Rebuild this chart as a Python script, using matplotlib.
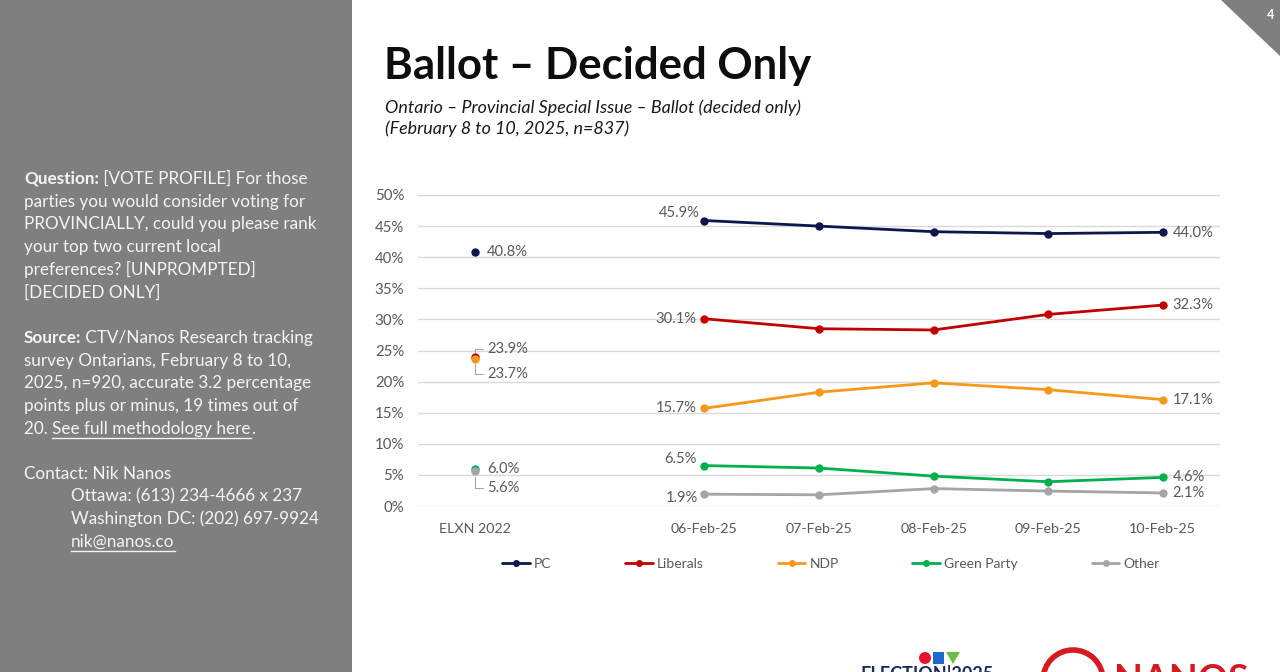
import matplotlib
matplotlib.use("Agg")
import matplotlib.pyplot as plt
from matplotlib.patches import Rectangle, Polygon, Ellipse
from matplotlib.ticker import PercentFormatter

plt.rcParams['font.family'] = ['Lato', 'DejaVu Sans']

# данные опроса
categories = ['ELXN 2022', '06-Feb-25', '07-Feb-25', '08-Feb-25', '09-Feb-25', '10-Feb-25']
positions = [0, 2, 3, 4, 5, 6]
parties = ['PC', 'Liberals', 'NDP', 'Green Party', 'Other']
colors = ['#0e1650', '#c00000', '#f7981d', '#00b04f', '#a5a5a5']
elxn_2022 = [40.8, 23.9, 23.7, 6.0, 5.6]
pc = [45.9, 45.0, 44.1, 43.8, 44.0]
liberals = [30.1, 28.5, 28.3, 30.8, 32.3]
ndp = [15.7, 18.3, 19.8, 18.7, 17.1]
green = [6.5, 6.1, 4.8, 3.9, 4.6]
other = [1.9, 1.8, 2.8, 2.4, 2.1]
series = [pc, liberals, ndp, green, other]

W, H = 1280, 672
fig = plt.figure(figsize=(12.8, 6.72), dpi=100)
fig.patch.set_facecolor('white')

def fx(px):
    return px / W

def fy(py):
    return 1 - py / H

# серая панель слева
fig.patches.append(Rectangle((0, 0), fx(352), 1, transform=fig.transFigure,
                             facecolor='#7f7f7f', edgecolor='none', zorder=0))
# уголок с номером слайда
fig.patches.append(Polygon([(fx(1221), 1), (1, 1), (1, fy(56))], closed=True,
                           transform=fig.transFigure, facecolor='#7f7f7f',
                           edgecolor='none'))
fig.text(fx(1271), fy(15), '4', color='white', fontsize=9, fontweight='bold',
         ha='center', va='center')

# заголовки
fig.text(fx(384), fy(79), 'Ballot \u2013 Decided Only', fontsize=31.5,
         fontweight='bold', color='#0d0d0d', va='baseline')
fig.text(fx(385), fy(113), 'Ontario \u2013 Provincial Special Issue \u2013 Ballot (decided only)',
         fontsize=12.9, style='italic', color='#1a1a1a', va='baseline')
fig.text(fx(385), fy(134), '(February 8 to 10, 2025, n=837)',
         fontsize=12.9, style='italic', color='#1a1a1a', va='baseline')

# текст в левой панели
txt_col = '#f4f4f4'
fs_side = 12.3
lines = [
    ('Question:', ' [VOTE PROFILE] For those', 0),
    (None, 'parties you would consider voting for', 0),
    (None, 'PROVINCIALLY, could you please rank', 0),
    (None, 'your top two current local', 0),
    (None, 'preferences? [UNPROMPTED]', 0),
    (None, '[DECIDED ONLY]', 0),
    (None, '', 0),
    ('Source:', ' CTV/Nanos Research tracking', 0),
    (None, 'survey Ontarians, February 8 to 10,', 0),
    (None, '2025, n=920, accurate 3.2 percentage', 0),
    (None, 'points plus or minus, 19 times out of', 0),
    (None, '20. ', 0),
    (None, '', 0),
    (None, 'Contact: Nik Nanos', 0),
    (None, 'Ottawa: (613) 234-4666 x 237', 1),
    (None, 'Washington DC: (202) 697-9924', 1),
    (None, 'nik@nanos.co', 1),
]
renderer = fig.canvas.get_renderer()
underline = []
for i, (bold, rest, indent) in enumerate(lines):
    y = fy(184 + 22.69 * i)
    x = fx(71) if indent else fx(24)
    if bold:
        t = fig.text(x, y, bold, fontsize=fs_side, fontweight='bold',
                     color=txt_col, va='baseline')
        bb = t.get_window_extent(renderer)
        x = bb.x1 / W
    t = fig.text(x, y, rest, fontsize=fs_side, color=txt_col, va='baseline')
    if rest == '20. ':
        bb = t.get_window_extent(renderer)
        t2 = fig.text(bb.x1 / W, y, 'See full methodology here', fontsize=fs_side,
                      color=txt_col, va='baseline')
        bb2 = t2.get_window_extent(renderer)
        fig.text(bb2.x1 / W, y, '.', fontsize=fs_side, color=txt_col, va='baseline')
        underline.append((bb2.x0, bb2.x1, y))
    if rest == 'nik@nanos.co':
        bb = t.get_window_extent(renderer)
        underline.append((bb.x0, bb.x1, y))
for x0, x1, y in underline:
    fig.add_artist(plt.Line2D([x0 / W, x1 / W], [y - 4 / H, y - 4 / H],
                              transform=fig.transFigure, color=txt_col, lw=1))

# сам график
ax = fig.add_axes([fx(418), fy(506), fx(1220) - fx(418), (506 - 195) / H])
ax.set_xlim(-0.5, 6.5)
ax.set_ylim(0, 50)
for s in ax.spines.values():
    s.set_visible(False)
ax.set_yticks(range(0, 51, 5))
ax.yaxis.set_major_formatter(PercentFormatter(decimals=0))
ax.grid(axis='y', color='#d9d9d9', lw=1)
ax.set_axisbelow(True)
ax.tick_params(length=0, labelsize=10.8, labelcolor='#595959', pad=10)
ax.tick_params(axis='x', pad=12, labelsize=10.3)
ax.set_xticks(positions)
ax.set_xticklabels(categories)

lab = dict(fontsize=10.6, color='#595959', textcoords='offset pixels', va='center')
for name, col, vals, e in zip(parties, colors, series, elxn_2022):
    ax.plot(positions[1:], vals, color=col, lw=2, marker='o', ms=5, label=name,
            solid_capstyle='round')
    ax.plot([positions[0]], [e], color=col, marker='o', ms=5, lw=0)

# подписи первого и последнего значений
first_off = [(-5, 8), (-8, 0), (-8, 0), (-8, 7), (-6, -4)]
last_off = [(10, -1), (10, 0), (10, 0), (10, 0), (10, 0)]
for vals, fo, lo in zip(series, first_off, last_off):
    ax.annotate(f'{vals[0]:.1f}%', (positions[1], vals[0]), xytext=fo, ha='right', **lab)
    ax.annotate(f'{vals[-1]:.1f}%', (positions[-1], vals[-1]), xytext=lo, ha='left', **lab)

# подписи ELXN 2022
lead = dict(arrowstyle='-', color='#a6a6a6', lw=0.8, relpos=(0, 0.5),
            connectionstyle='angle,angleA=0,angleB=90,rad=0', shrinkA=1, shrinkB=4)
ax.annotate(f'{elxn_2022[0]:.1f}%', (0, elxn_2022[0]), xytext=(12, 0), ha='left', **lab)
ax.annotate(f'{elxn_2022[1]:.1f}%', (0, elxn_2022[1]), xytext=(12, 8), ha='left',
            arrowprops=lead, **lab)
ax.annotate(f'{elxn_2022[2]:.1f}%', (0, elxn_2022[2]), xytext=(12, -15), ha='left',
            arrowprops=lead, **lab)
ax.annotate(f'{elxn_2022[3]:.1f}%', (0, elxn_2022[3]), xytext=(12, 0), ha='left', **lab)
ax.annotate(f'{elxn_2022[4]:.1f}%', (0, elxn_2022[4]), xytext=(12, -17), ha='left',
            arrowprops=lead, **lab)

leg = ax.legend(loc='center', bbox_to_anchor=(0.515, -0.186), ncol=5, frameon=False,
                fontsize=10, handlelength=2, handletextpad=0.3, columnspacing=5.3,
                markerscale=0.8)
for t in leg.get_texts():
    t.set_color('#595959')

# логотипы внизу (обрезаны краем слайда, как на слайде)
fig.patches.append(Ellipse((fx(925), fy(658)), 12 / W, 12 / H, transform=fig.transFigure,
                           facecolor='#e8112d', edgecolor='none'))
fig.patches.append(Rectangle((fx(933), fy(664)), fx(11), 12 / H, transform=fig.transFigure,
                             facecolor='#1b6ac9', edgecolor='none'))
fig.patches.append(Polygon([(fx(946), fy(652)), (fx(960), fy(652)), (fx(953), fy(664))],
                           transform=fig.transFigure, facecolor='#6abd45', edgecolor='none'))
fig.text(fx(860), fy(680), 'ELECTION|2025', fontsize=13, fontweight='bold',
         color='#1b2a5c', va='baseline')
fig.patches.append(Ellipse((fx(1073), fy(680)), 60 / W, 60 / H, transform=fig.transFigure,
                           facecolor='none', edgecolor='#d71920', lw=4))
fig.text(fx(1114), fy(692), 'NANOS', fontsize=27, fontweight='bold',
         color='#d71920', va='baseline')

fig.savefig('out.png', dpi=100)
